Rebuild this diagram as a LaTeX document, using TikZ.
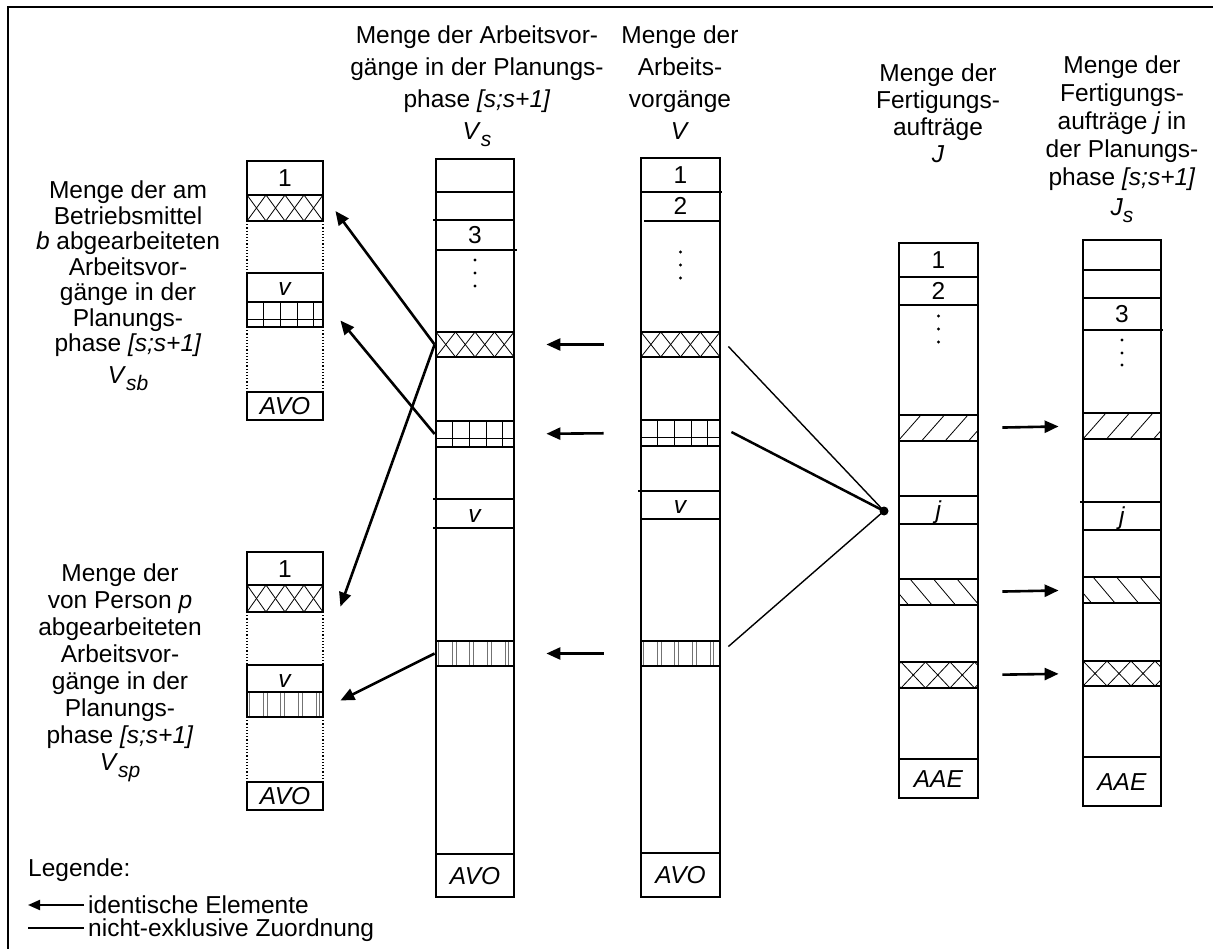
\documentclass[tikz,border=0pt]{standalone}
\usepackage{fontspec}
\setmainfont{Liberation Sans}
\usetikzlibrary{arrows.meta,fit}

% lowered subscript for set symbols such as V_s
\newcommand{\lowsub}[1]{\raisebox{-7pt}{\fontsize{21}{21}\selectfont\itshape #1}}
\newcommand{\symsub}[2]{\textit{#1}\lowsub{#2}}

% fillings of the marked cells (x0, y0 top, x1, y1 bottom, ...)
\newcommand{\fillcross}[6]{%
  \begin{scope}
    \clip (#1,#2) rectangle (#3,#4);
    \foreach \k in {-1,...,6}{
      \draw[hatch] ({#1+#6+#5*\k},#4) -- ({#1+#6+#5*(\k+1)},#2);
      \draw[hatch] ({#1+#6+#5*\k},#2) -- ({#1+#6+#5*(\k+1)},#4);
    }
  \end{scope}}
\newcommand{\fillslash}[5]{%
  \begin{scope}
    \clip (#1,#2) rectangle (#3,#4);
    \foreach \k in {-1,...,4}
      \draw[hatch] ({#1+#5+23.5*\k},#4) -- ({#1+#5+23.5*\k+23},#2);
  \end{scope}}
\newcommand{\fillback}[5]{%
  \begin{scope}
    \clip (#1,#2) rectangle (#3,#4);
    \foreach \k in {-1,...,4}
      \draw[hatch] ({#1+#5+23.5*\k},#2) -- ({#1+#5+23.5*\k+22},#4);
  \end{scope}}
\newcommand{\fillgrid}[4]{%
  \begin{scope}
    \clip (#1,#2) rectangle (#3,#4);
    \foreach \d in {16.7,33.4,50.1,66.8}
      \draw[hatch] ({#1+\d},#2) -- ({#1+\d},#4);
    \draw[hatch] (#1,{#2+0.68*(#4-#2)}) -- (#3,{#2+0.68*(#4-#2)});
  \end{scope}}
\newcommand{\fillstripes}[4]{%
  \begin{scope}
    \clip (#1,#2) rectangle (#3,#4);
    \foreach \d in {2.5,16,20,33.5,37.5,51,55,69,72.5}
      \draw[stripe] ({#1+\d},#2) -- ({#1+\d},#4);
  \end{scope}}

\tikzset{
  colline/.style={line width=1.6pt},
  cellline/.style={line width=1.5pt},
  rowline/.style={line width=1.3pt},
  dotside/.style={line width=1.2pt, dotted},
  hatch/.style={line width=0.8pt},
  stripe/.style={line width=0.8pt, black!55},
  patbox/.style={draw, line width=2.8pt, inner sep=0pt},
  celltext/.style={text height=17pt, text depth=0pt, inner sep=0pt},
  hdr/.style={align=center, inner sep=0pt, anchor=north},
  idarrow/.style={line width=2.6pt, -{Triangle[length=14pt,width=12pt]}},
  assign/.style={line width=1.4pt},
  dotmark/.style={circle, fill, inner sep=0pt, minimum size=3.4pt},
}

\begin{document}
\begin{tikzpicture}[x=1pt,y=-1pt,font=\fontsize{24.5}{27}\selectfont]
\useasboundingbox (0,0) rectangle (1213,949);

% outer frame (open to the right and bottom)
\draw[line width=2.8pt] (8,960) -- (8,7) -- (1220,7);

% ---------- headings
\node[hdr, font=\fontsize{24.5}{32}\selectfont] (hVs) at (477,26)
  {Menge der Arbeitsvor-\\gänge in der Planungs-\\phase \textit{[s;s+1]}\\\symsub{V}{s}};
\node[hdr, font=\fontsize{24.5}{32}\selectfont] (hV) at (680,26)
  {Menge der\\Arbeits-\\vorgänge\\\textit{V}};
\node[hdr, font=\fontsize{24.5}{27}\selectfont] (hJ) at (938,64)
  {Menge der\\Fertigungs-\\aufträge\\\textit{J}};
\node[hdr, font=\fontsize{24.5}{28}\selectfont] (hJs) at (1122,56)
  {Menge der\\Fertigungs-\\aufträge \textit{j} in\\der Planungs-\\phase \textit{[s;s+1]}\\[2pt]\symsub{J}{s}};
\node[hdr, font=\fontsize{24.5}{25.5}\selectfont] (tB) at (128,181)
  {Menge der am\\Betriebsmittel\\\textit{b} abgearbeiteten\\Arbeitsvor-\\gänge in der\\Planungs-\\phase \textit{[s;s+1]}\\[6pt]\symsub{V}{sb}};
\node[hdr, font=\fontsize{24.5}{27}\selectfont] (tP) at (120,564)
  {Menge der\\von Person \textit{p}\\abgearbeiteten\\Arbeitsvor-\\gänge in der\\Planungs-\\phase \textit{[s;s+1]}\\\symsub{V}{sp}};

% ---------- column V_s
\draw[colline] (436,159) rectangle (514,897);
\draw[rowline] (436,192) -- (514,192) (433,220) -- (514,220) (436,250) -- (517,250)
  (433,499) -- (514,499) (433,528) -- (514,528) (436,854) -- (514,854);
\node[celltext] (vs3) at (475,235) {3};
\node[celltext] (vsv) at (475,513.5) {\textit{v}};
\node[celltext] (vsavo) at (475,876) {\textit{AVO}};
\foreach \y in {260,273,286} \node[dotmark] at (475,\y) {};
\fillcross{436}{332}{514}{357}{19.5}{0}
\node[patbox, fit={(436,332) (514,357)}] (vsX) {};
\fillgrid{436}{421}{514}{447}
\node[patbox, fit={(436,421) (514,447)}] (vsG) {};
\fillstripes{436}{641}{514}{666}
\node[patbox, fit={(436,641) (514,666)}] (vsS) {};

% ---------- column V
\draw[colline] (641,158) rectangle (720,897);
\draw[rowline] (641,192) -- (722,192) (644,221) -- (720,221)
  (638,491) -- (720,491) (641,519) -- (720,519) (641,853) -- (720,853);
\node[celltext] (v1) at (680.5,175) {1};
\node[celltext] (v2) at (680.5,206.5) {2};
\node[celltext] (vv) at (680.5,505) {\textit{v}};
\node[celltext] (vavo) at (680.5,875) {\textit{AVO}};
\foreach \y in {252,265,278} \node[dotmark] at (680.5,\y) {};
\fillcross{641}{332}{720}{357}{19.75}{0}
\node[patbox, fit={(641,332) (720,357)}] (vX) {};
\fillgrid{641}{420}{720}{446}
\node[patbox, fit={(641,420) (720,446)}] (vG) {};
\fillstripes{641}{641}{720}{666}
\node[patbox, fit={(641,641) (720,666)}] (vS) {};

% ---------- column J
\draw[colline] (899,243) rectangle (978,798);
\draw[rowline] (899,277) -- (978,277) (899,305) -- (978,305)
  (899,496) -- (978,496) (899,524) -- (978,524) (899,759) -- (978,759);
\node[celltext] (j1) at (938.5,260) {1};
\node[celltext] (j2) at (938.5,291) {2};
\node[celltext] (jj) at (938.5,510) {\textit{j}};
\node[celltext] (jaae) at (938.5,779) {\textit{AAE}};
\foreach \y in {316,329,342} \node[dotmark] at (938.5,\y) {};
\fillslash{899}{415}{978}{441}{-1}
\node[patbox, fit={(899,415) (978,441)}] (jF) {};
\fillback{899}{579}{978}{605}{11}
\node[patbox, fit={(899,579) (978,605)}] (jB) {};
\fillcross{899}{662}{978}{688}{24.5}{2}
\node[patbox, fit={(899,662) (978,688)}] (jX) {};

% ---------- column J_s
\draw[colline] (1083,240) rectangle (1161,806);
\draw[rowline] (1083,270) -- (1161,270) (1083,298) -- (1161,298) (1083,330) -- (1163,330)
  (1080,502) -- (1161,502) (1083,530) -- (1161,530) (1083,757) -- (1161,757);
\node[celltext] (js3) at (1122,314) {3};
\node[celltext] (jsj) at (1122,516) {\textit{j}};
\node[celltext] (jsaae) at (1122,782) {\textit{AAE}};
\foreach \y in {340,353,365} \node[dotmark] at (1122,\y) {};
\fillslash{1083}{413}{1161}{439}{0}
\node[patbox, fit={(1083,413) (1161,439)}] (jsF) {};
\fillback{1083}{577}{1161}{603}{10}
\node[patbox, fit={(1083,577) (1161,603)}] (jsB) {};
\fillcross{1083}{661}{1161}{686}{24}{0}
\node[patbox, fit={(1083,661) (1161,686)}] (jsX) {};

% ---------- operations of machine b
\draw[cellline] (247,161) rectangle (323,195);
\node[celltext] (b1) at (285,178) {1};
\fillcross{247}{195}{323}{221}{19}{0}
\node[patbox, fit={(247,195) (323,221)}] (bX) {};
\draw[dotside] (247,221) -- (247,273) (323,221) -- (323,273);
\draw[cellline] (247,273) rectangle (323,302);
\node[celltext] (bv) at (285,287.5) {\textit{v}};
\fillgrid{247}{302}{323}{327}
\node[patbox, fit={(247,302) (323,327)}] (bG) {};
\draw[dotside] (247,327) -- (247,392) (323,327) -- (323,392);
\draw[cellline] (247,392) rectangle (323,420);
\node[celltext] (bavo) at (285,406) {\textit{AVO}};

% ---------- operations of person p
\draw[cellline] (247,552) rectangle (323,585);
\node[celltext] (p1) at (285,568.5) {1};
\fillcross{247}{585}{323}{612}{19}{0}
\node[patbox, fit={(247,585) (323,612)}] (pX) {};
\draw[dotside] (247,612) -- (247,665) (323,612) -- (323,665);
\draw[cellline] (247,665) rectangle (323,692);
\node[celltext] (pv) at (285,678.5) {\textit{v}};
\fillstripes{247}{692}{323}{717}
\node[patbox, fit={(247,692) (323,717)}] (pS) {};
\draw[dotside] (247,717) -- (247,782) (323,717) -- (323,782);
\draw[cellline] (247,782) rectangle (323,810);
\node[celltext] (pavo) at (285,796) {\textit{AVO}};

% ---------- identical elements
\draw[idarrow, shorten <=36pt, shorten >=31pt] (vX.west) -- (vsX.east);
\draw[idarrow, shorten <=36pt, shorten >=31pt] (vG.west) -- (vsG.east);
\draw[idarrow, shorten <=36pt, shorten >=31pt] (vS.west) -- (vsS.east);
\draw[idarrow, shorten <=23pt, shorten >=23pt] (jF.east) -- (jsF.west);
\draw[idarrow, shorten <=23pt, shorten >=23pt] (jB.east) -- (jsB.west);
\draw[idarrow, shorten <=23pt, shorten >=23pt] (jX.east) -- (jsX.west);
\draw[idarrow] (vsX.west) -- ([xshift=11pt,yshift=-3pt]bX.east);
\draw[idarrow] (vsG.west) -- ([xshift=16pt,yshift=-6pt]bG.east);
\draw[idarrow] (vsX.west) -- ([xshift=16pt,yshift=-8pt]pX.east);
\draw[idarrow] (vsS.west) -- ([xshift=16pt,yshift=4pt]pS.east);

% ---------- non-exclusive assignment to order j
\node[circle, fill, inner sep=0pt, minimum size=9pt] (jdot) at (884,511) {};
\draw[assign] ([xshift=7pt,yshift=-2pt]vX.east) -- (jdot.center);
\draw[assign, line width=2.5pt] ([xshift=10pt,yshift=1pt]vG.east) -- (jdot.center);
\draw[assign] ([xshift=7pt,yshift=7pt]vS.east) -- (jdot.center);

% ---------- legend
\node[anchor=base west, inner sep=0pt] (lgT) at (28,876.6) {Legende:};
\node[anchor=base west, inner sep=0pt] (lg1) at (88,913.6) {identische Elemente};
\node[anchor=base west, inner sep=0pt] (lg2) at (88,936.6) {nicht-exklusive Zuordnung};
\coordinate (lg1a) at (84,905);
\coordinate (lg1b) at (28,905);
\coordinate (lg2a) at (28,928);
\coordinate (lg2b) at (84,928);
\draw[line width=2pt, -{Triangle[length=12pt,width=10pt]}] (lg1a) -- (lg1b);
\draw[line width=2pt] (lg2a) -- (lg2b);
\end{tikzpicture}
\end{document}
